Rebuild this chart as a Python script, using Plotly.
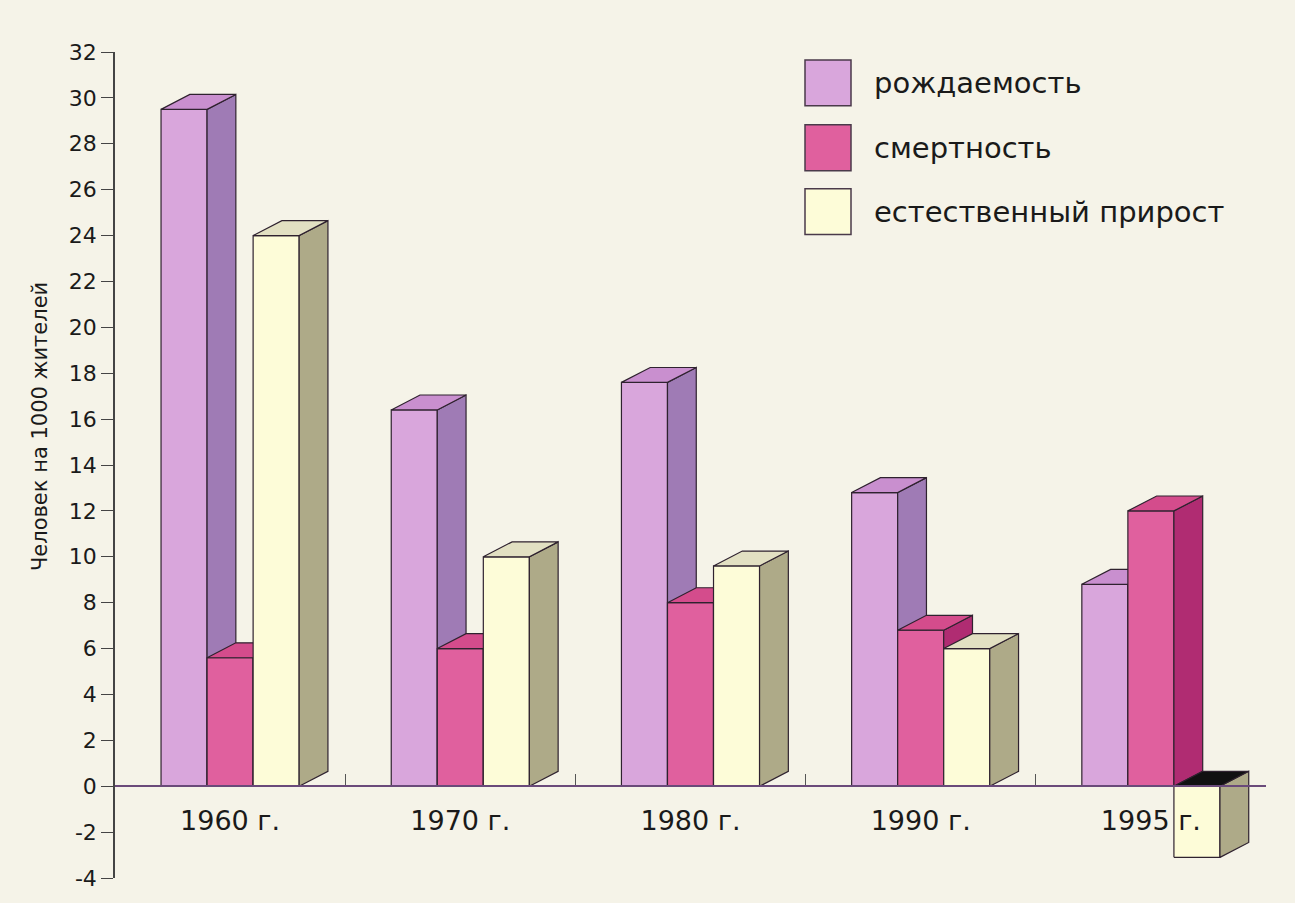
import plotly.graph_objects as go

# ---- data ----
categories = ["1960 г.", "1970 г.", "1980 г.", "1990 г.", "1995 г."]
series_names = ["рождаемость", "смертность", "естественный прирост"]
birth_rate = [29.5, 16.4, 17.6, 12.8, 8.8]
death_rate = [5.6, 6.0, 8.0, 6.8, 12.0]
natural_growth = [24.0, 10.0, 9.6, 6.0, -3.1]
y_tick_values = list(range(-4, 33, 2))
y_tick_labels = [str(v) for v in y_tick_values]

# ---- style ----
front_colors = ["#d9a6dc", "#e0609e", "#fdfcd8"]
side_colors = ["#9f7bb5", "#b02c72", "#aeaa88"]
top_colors = ["#c98fcf", "#d44c8c", "#e2e0c2"]
opening_color = "#111111"
edge = "#2f222f"
bg = "#f5f3e8"
BAR_W = 0.2
DX = 0.125
DY = 0.65

FONT = "DejaVu Sans, Arial, sans-serif"

fig = go.Figure()


def add_poly(xs, ys, color):
    fig.add_trace(go.Scatter(
        x=xs, y=ys, mode="lines", fill="toself", fillcolor=color,
        line=dict(color=edge, width=1.2), hoverinfo="skip", showlegend=False))


all_series = [birth_rate, death_rate, natural_growth]
n_series = len(all_series)
for i, vals in enumerate(all_series):
    fx, fy, sx, sy, tx, ty, ox, oy = [], [], [], [], [], [], [], []
    for j, v in enumerate(vals):
        x0 = j + (i - n_series / 2) * BAR_W
        x1 = x0 + BAR_W
        base = min(0, v)
        top = max(0, v)
        fx += [x0, x1, x1, x0, x0, None]
        fy += [base, base, top, top, base, None]
        sx += [x1, x1 + DX, x1 + DX, x1, x1, None]
        sy += [base, base + DY, top + DY, top, base, None]
        px = [x0, x1, x1 + DX, x0 + DX, x0, None]
        py = [top, top, top + DY, top + DY, top, None]
        if v >= 0:
            tx += px; ty += py
        else:
            ox += px; oy += py
    add_poly(fx, fy, front_colors[i])
    add_poly(sx, sy, side_colors[i])
    if tx:
        add_poly(tx, ty, top_colors[i])
    if ox:
        add_poly(ox, oy, opening_color)

# legend (manual, large squares)
W_PLOT = 1295 - 115 - 29
H_PLOT = 903 - 52 - 23


def px2paper(x, y):
    return (x - 115) / W_PLOT, (880 - y) / H_PLOT


shapes = []
annotations = []
legend_tops = [60, 125, 189]
for k, name in enumerate(series_names):
    xa, ya = px2paper(805, legend_tops[k])
    xb, yb = px2paper(851, legend_tops[k] + 46)
    shapes.append(dict(type="rect", xref="paper", yref="paper", x0=xa, x1=xb, y0=yb, y1=ya,
                       fillcolor=front_colors[k], line=dict(color="#4a3a4a", width=1.5), layer="above"))
    tx_, ty_ = px2paper(872, legend_tops[k] + 23)
    annotations.append(dict(xref="paper", yref="paper", x=tx_, y=ty_, xanchor="left", yanchor="middle",
                            text=name, showarrow=False, font=dict(family=FONT, size=29, color="#1a1a1a")))

ax_, ay_ = px2paper(40, 428)
annotations.append(dict(xref="paper", yref="paper", x=ax_, y=ay_, xanchor="center", yanchor="middle",
                        text="Человек на 1000 жителей", textangle=-90, showarrow=False,
                        font=dict(family=FONT, size=21, color="#1a1a1a")))

fig.update_layout(
    width=1295, height=903,
    margin=dict(l=115, r=29, t=52, b=23),
    paper_bgcolor=bg, plot_bgcolor=bg,
    showlegend=False,
    shapes=shapes, annotations=annotations,
    xaxis=dict(
        range=[-0.5, 4.5], showgrid=False, zeroline=False,
        anchor="free", position=4 / 36,
        showline=True, linecolor="#6a4a7a", linewidth=1.5,
        tickmode="array", tickvals=list(range(len(categories))), ticktext=categories,
        ticks="inside", ticklen=0, ticklabelstandoff=11,
        tickfont=dict(family=FONT, size=27, color="#1a1a1a"),
        minor=dict(tickmode="array", tickvals=[k + 0.5 for k in range(len(categories) - 1)],
                   ticks="inside", ticklen=11, tickcolor="#555555", tickwidth=1.2),
        fixedrange=True,
    ),
    yaxis=dict(
        range=[-4, 32], showgrid=False, zeroline=False,
        showline=True, linecolor="#444444", linewidth=1.5,
        tickmode="array", tickvals=y_tick_values, ticktext=y_tick_labels,
        ticks="outside", ticklen=12, tickcolor="#444444", tickwidth=1.2,
        tickfont=dict(family=FONT, size=22, color="#1a1a1a"),
        fixedrange=True,
    ),
)

fig.write_html("out.html", config={"displayModeBar": False},
               post_script="document.body.style.margin='0';document.body.style.background='%s';" % bg)
